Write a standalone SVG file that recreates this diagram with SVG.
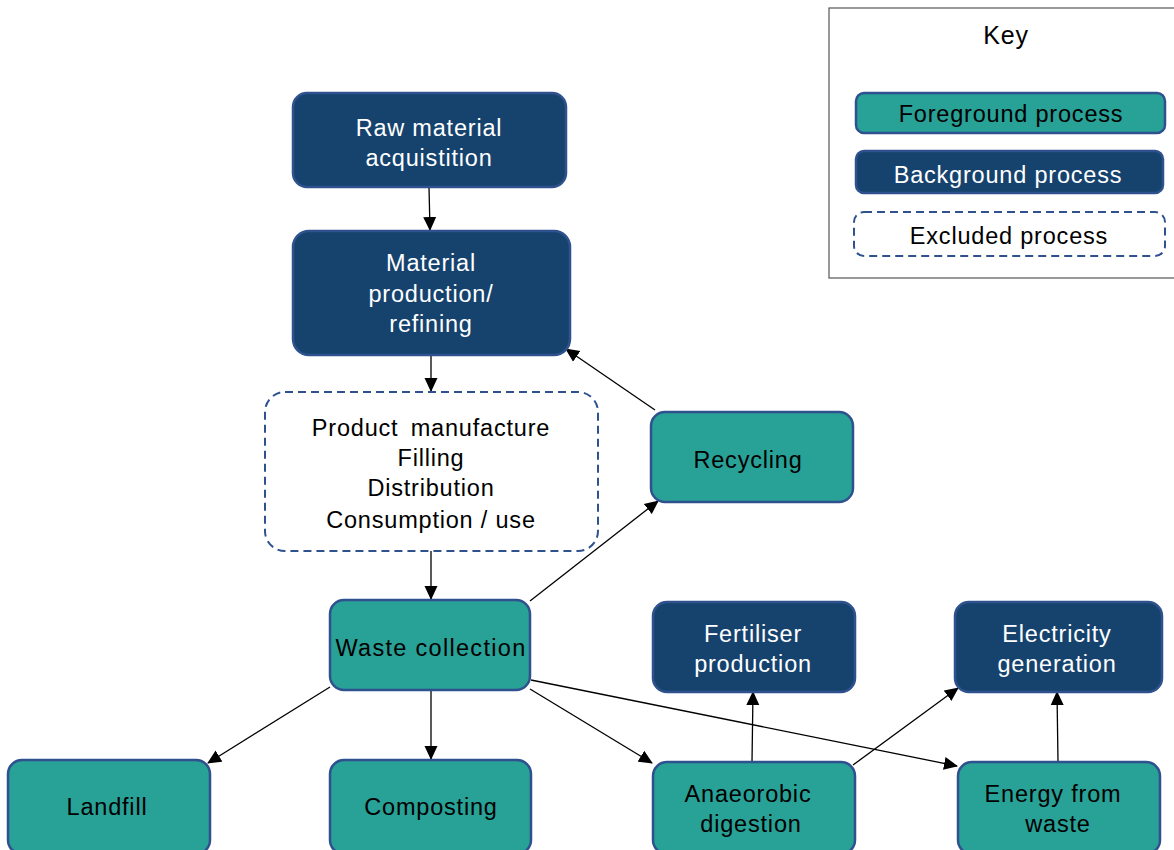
<svg xmlns="http://www.w3.org/2000/svg" width="1174" height="850" viewBox="0 0 1174 850">
<defs>
<style>
.fg{fill:#28A197;stroke:#2F528F;stroke-width:2.5}
.bg{fill:#16436E;stroke:#2F528F;stroke-width:2.5}
.ex{fill:#fff;stroke:#2F528F;stroke-width:2;stroke-dasharray:8 5}
text{font-family:"Liberation Sans",Arial,sans-serif;font-size:23.5px;letter-spacing:0.8px;text-anchor:middle}
.w{fill:#fff}
.k{fill:#000}
.c line{stroke:#000;stroke-width:1.3;marker-end:url(#ah)}
</style>
<marker id="ah" markerWidth="14" markerHeight="14" refX="13" refY="7" orient="auto" markerUnits="userSpaceOnUse" viewBox="0 0 14 14">
<path d="M0,0.5 L14,7 L0,13.5 z" fill="#000"/>
</marker>
</defs>
<rect width="1174" height="850" fill="#fff"/>
<g id="connectors" class="c">
<line x1="429" y1="187" x2="430" y2="230"/>
<line x1="431" y1="355" x2="431" y2="391"/>
<line x1="655" y1="410" x2="566" y2="349"/>
<line x1="431" y1="551" x2="431" y2="599"/>
<line x1="530" y1="601" x2="658" y2="501"/>
<line x1="330" y1="687" x2="208" y2="763"/>
<line x1="431" y1="690" x2="431" y2="759"/>
<line x1="530" y1="689" x2="652" y2="763"/>
<line x1="531" y1="680" x2="957" y2="766"/>
<line x1="752" y1="762" x2="753" y2="692"/>
<line x1="853" y1="765" x2="958" y2="688"/>
<line x1="1058" y1="762" x2="1057" y2="692"/>
</g>
<g id="raw"><rect class="bg" x="293" y="93" width="273" height="94" rx="14"/><text class="w" x="429" y="136">Raw material</text><text class="w" x="429" y="166">acquistition</text></g>
<g id="matprod"><rect class="bg" x="293" y="231" width="277" height="124" rx="16"/><text class="w" x="431" y="271">Material</text><text class="w" x="431" y="302">production/</text><text class="w" x="431" y="332">refining</text></g>
<g id="excluded"><rect class="ex" x="265" y="392" width="333" height="159" rx="20"/><text class="k" x="431" y="436" style="word-spacing:5px">Product manufacture</text><text class="k" x="431" y="466">Filling</text><text class="k" x="431" y="496">Distribution</text><text class="k" x="431" y="528">Consumption / use</text></g>
<g id="recycling"><rect class="fg" x="651" y="412" width="202" height="90" rx="14"/><text class="k" x="748" y="468">Recycling</text></g>
<g id="waste"><rect class="fg" x="330" y="600" width="200" height="90" rx="14"/><text class="k" x="431" y="656" style="letter-spacing:1.3px">Waste collection</text></g>
<g id="landfill"><rect class="fg" x="8" y="760" width="202" height="94" rx="14"/><text class="k" x="107" y="815">Landfill</text></g>
<g id="composting"><rect class="fg" x="330" y="760" width="201" height="94" rx="14"/><text class="k" x="431" y="815">Composting</text></g>
<g id="anaerobic"><rect class="fg" x="653" y="762" width="202" height="92" rx="14"/><text class="k" x="748" y="802">Anaeorobic</text><text class="k" x="751" y="832">digestion</text></g>
<g id="fertiliser"><rect class="bg" x="653" y="602" width="202" height="90" rx="14"/><text class="w" x="753" y="642">Fertiliser</text><text class="w" x="753" y="672">production</text></g>
<g id="electricity"><rect class="bg" x="955" y="602" width="207" height="90" rx="14"/><text class="w" x="1057" y="642">Electricity</text><text class="w" x="1057" y="672">generation</text></g>
<g id="efw"><rect class="fg" x="958" y="762" width="202" height="92" rx="14"/><text class="k" x="1053" y="802">Energy  from</text><text class="k" x="1058" y="832">waste</text></g>
<g id="key">
<rect x="829" y="8" width="350" height="270" fill="#fff" stroke="#555" stroke-width="1.2"/>
<text class="k" x="1006" y="44" style="font-size:25px">Key</text>
<rect class="fg" x="856" y="93" width="309" height="40" rx="8"/><text class="k" x="1011" y="122">Foreground  process</text>
<rect class="bg" x="856" y="151" width="307" height="42" rx="8"/><text class="w" x="1008" y="183">Background  process</text>
<rect class="ex" x="854" y="212" width="311" height="44" rx="10"/><text class="k" x="1009" y="244">Excluded process</text>
</g>
</svg>
